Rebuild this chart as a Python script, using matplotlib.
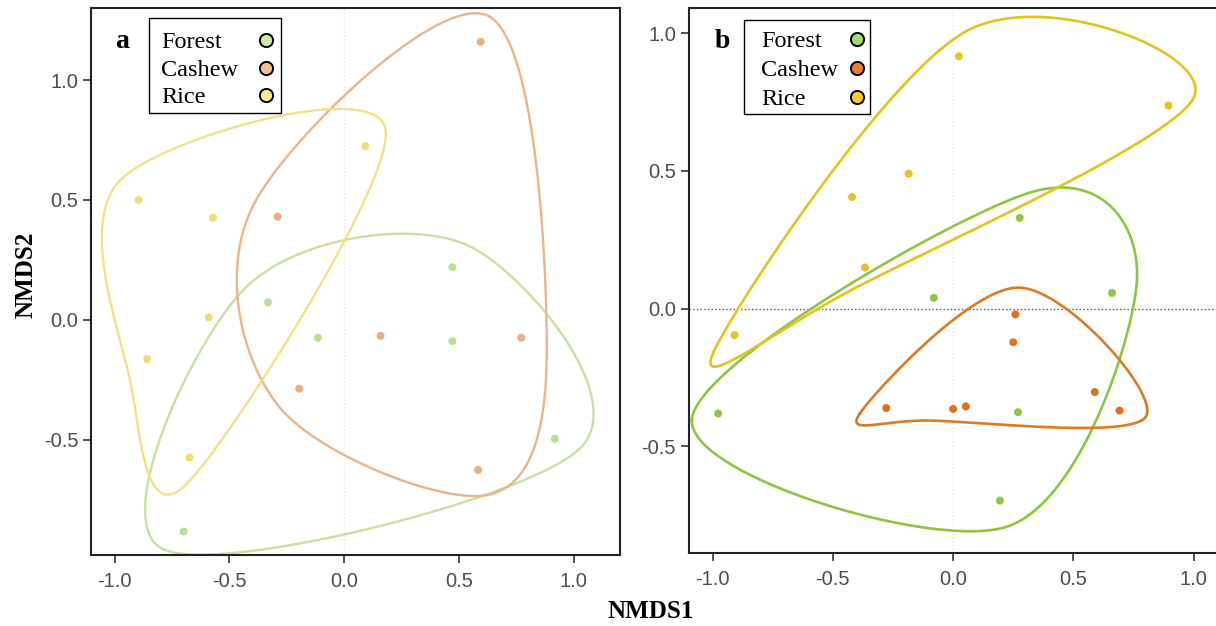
import numpy as np
import matplotlib
matplotlib.use("Agg")
import matplotlib.pyplot as plt
from matplotlib.lines import Line2D
from matplotlib.patches import Rectangle

# ---------------- data ----------------
groups = ["Forest", "Cashew", "Rice"]

a_forest_x = [0.471, -0.332, -0.114, 0.471, 0.917, -0.700]
a_forest_y = [0.219, 0.072, -0.075, -0.090, -0.497, -0.884]
a_cashew_x = [0.594, -0.290, 0.158, 0.771, -0.196, 0.583]
a_cashew_y = [1.160, 0.430, -0.067, -0.075, -0.288, -0.627]
a_rice_x = [-0.896, -0.572, 0.091, -0.590, -0.858, -0.674]
a_rice_y = [0.500, 0.425, 0.724, 0.010, -0.164, -0.575]

b_forest_x = [0.277, -0.080, 0.661, -0.977, 0.270, 0.195]
b_forest_y = [0.329, 0.039, 0.057, -0.381, -0.376, -0.697]
b_cashew_x = [0.259, 0.250, 0.589, 0.692, -0.278, 0.000, 0.053]
b_cashew_y = [-0.021, -0.122, -0.303, -0.370, -0.361, -0.364, -0.355]
b_rice_x = [0.024, 0.895, -0.185, -0.420, -0.366, -0.909]
b_rice_y = [0.916, 0.737, 0.490, 0.405, 0.149, -0.096]

x_ticks = [-1.0, -0.5, 0.0, 0.5, 1.0]
y_ticks = [-0.5, 0.0, 0.5, 1.0]

# colours
a_line_cols = ["#c6e0a0", "#e9b48a", "#f1e184"]
a_pt_cols = ["#bcdd94", "#eeab7d", "#f3dd6e"]
a_leg_cols = ["#cfe7ab", "#f6bf93", "#fdec8e"]
b_line_cols = ["#8cc63f", "#df7a22", "#e2c31c"]
b_pt_cols = ["#8dc641", "#e0701e", "#e6c21e"]
b_leg_cols = ["#a3d96f", "#ea7d30", "#fcc934"]

W, H, DPI = 1216, 626, 100
fig = plt.figure(figsize=(W / DPI, H / DPI), dpi=DPI)


def px_axes(l, t, r, b):
    return fig.add_axes([l / W, 1 - b / H, (r - l) / W, (b - t) / H])


def fx(x):
    return x / W


def fy(y):
    return 1 - y / H


def convex_hull(p):
    idx = sorted(range(len(p)), key=lambda i: (p[i][0], p[i][1]))
    pts = [tuple(p[i]) for i in idx]

    def cross(o, a, b):
        return (a[0] - o[0]) * (b[1] - o[1]) - (a[1] - o[1]) * (b[0] - o[0])

    lower, upper = [], []
    for q in pts:
        while len(lower) >= 2 and cross(lower[-2], lower[-1], q) <= 0:
            lower.pop()
        lower.append(q)
    for q in reversed(pts):
        while len(upper) >= 2 and cross(upper[-2], upper[-1], q) <= 0:
            upper.pop()
        upper.append(q)
    return np.array(lower[:-1] + upper[:-1])


def catmull_closed(c, n=60):
    out = []
    m = len(c)
    t = np.linspace(0, 1, n, endpoint=False)[:, None]
    for i in range(m):
        p0, p1, p2, p3 = c[i - 1], c[i], c[(i + 1) % m], c[(i + 2) % m]
        seg = 0.5 * (2 * p1 + (-p0 + p2) * t + (2 * p0 - 5 * p1 + 4 * p2 - p3) * t ** 2
                     + (-p0 + 3 * p1 - 3 * p2 + p3) * t ** 3)
        out.append(seg)
    out = np.vstack(out)
    return np.vstack([out, out[:1]])


def encircle(ax, xs, ys, color, lw, expand=27):
    pts = ax.transData.transform(np.column_stack([xs, ys]))
    cen = pts.mean(axis=0)
    hull = convex_hull(pts)
    d = hull - cen
    d = d / np.linalg.norm(d, axis=1)[:, None]
    ctrl = hull + expand * d
    curve = catmull_closed(ctrl)
    data = ax.transData.inverted().transform(curve)
    ax.plot(data[:, 0], data[:, 1], color=color, lw=lw, zorder=2,
            solid_joinstyle="round")


def style_axes(ax, xlim, ylim):
    ax.set_xlim(*xlim)
    ax.set_ylim(*ylim)
    ax.set_xticks(x_ticks)
    ax.set_yticks(y_ticks)
    ax.set_xticklabels([f"{v:.1f}" for v in x_ticks])
    ax.set_yticklabels([f"{v:.1f}" for v in y_ticks])
    for s in ax.spines.values():
        s.set_linewidth(1.5)
        s.set_color("#222222")
    ax.tick_params(axis="both", length=6, width=1.2, color="#333333",
                   labelcolor="#4d4d4d", labelsize=14.5)
    ax.tick_params(axis="x", pad=6)
    ax.tick_params(axis="y", pad=3)
    for lab in ax.get_xticklabels() + ax.get_yticklabels():
        lab.set_family("Liberation Sans")
    ax.axvline(0, color="#e6e6e6", lw=1.0, ls=":", zorder=0)


def add_legend(cols, box, text_x, mark_x, rows_y):
    l, t, r, b = box
    fig.add_artist(Rectangle((fx(l), fy(b)), (r - l) / W, (b - t) / H,
                             transform=fig.transFigure, facecolor="white",
                             edgecolor="black", lw=1.0, zorder=5))
    for lab, c, y in zip(groups, cols, rows_y):
        fig.text(fx(text_x), fy(y), lab, ha="left", va="center_baseline",
                 family="Liberation Serif", size=17.5, zorder=6)
        fig.add_artist(Line2D([fx(mark_x)], [fy(y)], transform=fig.transFigure,
                              ls="none", marker="o", markersize=9.5,
                              markerfacecolor=c, markeredgecolor="black",
                              markeredgewidth=1.4, zorder=6))


# ---------------- panel a ----------------
axA = px_axes(91, 8, 620, 555)
style_axes(axA, (-1.103, 1.201), (-0.982, 1.301))
a_data = [(a_forest_x, a_forest_y), (a_cashew_x, a_cashew_y), (a_rice_x, a_rice_y)]
for (xs, ys), lc, pc in zip(a_data, a_line_cols, a_pt_cols):
    axA.scatter(xs, ys, s=33, color=pc, edgecolors="none", zorder=3)
    encircle(axA, xs, ys, lc, 1.7)
add_legend(a_leg_cols, (149, 18, 281, 113), 161, 266, [40, 68, 95])

# ---------------- panel b (its right edge runs past the image edge) ----------------
axB = px_axes(688.6, 8, 1220, 553)
style_axes(axB, (-1.100, 1.110), (-0.887, 1.091))
axB.axhline(0, color="#555555", lw=1.0, ls=":", zorder=0)
b_data = [(b_forest_x, b_forest_y), (b_cashew_x, b_cashew_y), (b_rice_x, b_rice_y)]
for (xs, ys), lc, pc in zip(b_data, b_line_cols, b_pt_cols):
    axB.scatter(xs, ys, s=33, color=pc, edgecolors="none", zorder=3)
    encircle(axB, xs, ys, lc, 1.9)
add_legend(b_leg_cols, (744, 20, 870, 114), 761, 857, [39, 68, 97])

# labels
fig.text(fx(122), fy(42), "a", ha="center", va="center",
         family="Liberation Serif", weight="bold", size=20)
fig.text(fx(722), fy(41), "b", ha="center", va="center",
         family="Liberation Serif", weight="bold", size=20)
fig.text(fx(651), fy(612), "NMDS1", ha="center", va="center",
         family="Liberation Serif", weight="bold", size=18)
fig.text(fx(26), fy(275), "NMDS2", ha="center", va="center",
         rotation=90, family="Liberation Serif", weight="bold", size=18)

fig.savefig("out.png", dpi=DPI)
